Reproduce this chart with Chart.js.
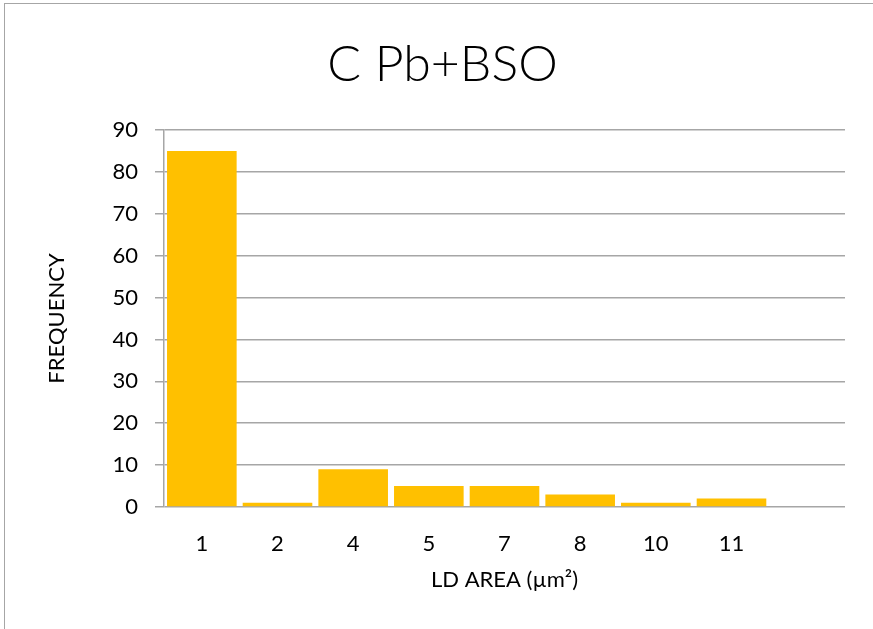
<!DOCTYPE html>
<html>
<head>
<meta charset="utf-8">
<script src="https://cdn.jsdelivr.net/npm/chart.js@4.4.0/dist/chart.umd.min.js"></script>
<style>
  html, body { margin: 0; padding: 0; background: #fff; }
  #wrap { position: absolute; left: 0; top: 0; width: 873px; height: 629px; }
  #frame { position: absolute; left: 4px; top: 3px; width: 869px; height: 626px;
           border-top: 1.5px solid #a6a6a6; border-left: 1.5px solid #a6a6a6; box-sizing: border-box; }
  canvas { position: absolute; left: 0; top: 0; }
</style>
</head>
<body>
<div id="wrap">
  <div id="frame"></div>
  <canvas id="c" width="873" height="629"></canvas>
</div>
<script>
const chartTitle = 'C Pb+BSO';
const xAxisTitle = 'LD AREA (\u00B5m\u00B2)';
const yAxisTitle = 'FREQUENCY';
const categories = ['1', '2', '4', '5', '7', '8', '10', '11', ''];
const frequency = [85, 1, 9, 5, 5, 3, 1, 2, null];
const yTicks = [0, 10, 20, 30, 40, 50, 60, 70, 80, 90];

const FONT = 'Lato, "Open Sans", sans-serif';

new Chart(document.getElementById('c'), {
  type: 'bar',
  data: {
    labels: categories,
    datasets: [{
      data: frequency,
      backgroundColor: '#FFC000',
      borderWidth: 0,
      barPercentage: 0.92,
      categoryPercentage: 1.0
    }]
  },
  options: {
    responsive: false,
    animation: false,
    events: [],
    layout: { padding: { left: 40, right: 28, top: 28, bottom: 22 } },
    plugins: {
      legend: { display: false },
      tooltip: { enabled: false },
      title: {
        display: true,
        text: chartTitle,
        color: '#000',
        font: { family: FONT, size: 50, weight: '300' },
        padding: { top: 7, bottom: 35 }
      }
    },
    scales: {
      x: {
        grid: { display: false, drawTicks: false },
        border: { display: false },
        ticks: { color: '#000', font: { family: FONT, size: 22 }, padding: 24, maxRotation: 0, autoSkip: false },
        title: { display: true, text: xAxisTitle, color: '#000', font: { family: FONT, size: 22 }, padding: { top: 0, bottom: 14 } },
        afterFit: (s) => { s.height = 100; }
      },
      y: {
        min: 0, max: 90,
        afterBuildTicks: (s) => { s.ticks = yTicks.map(v => ({ value: v })); },
        grid: { color: '#a6a6a6', lineWidth: 1.5, tickLength: 9, drawTicks: true },
        border: { display: true, color: '#a6a6a6', width: 1.5 },
        ticks: { color: '#000', font: { family: FONT, size: 22 }, padding: 17 },
        title: { display: true, text: yAxisTitle, color: '#000', font: { family: FONT, size: 22 }, padding: { top: 4, bottom: 0 } },
        afterFit: (s) => { s.width = 124; }
      }
    }
  }
});
</script>
</body>
</html>
